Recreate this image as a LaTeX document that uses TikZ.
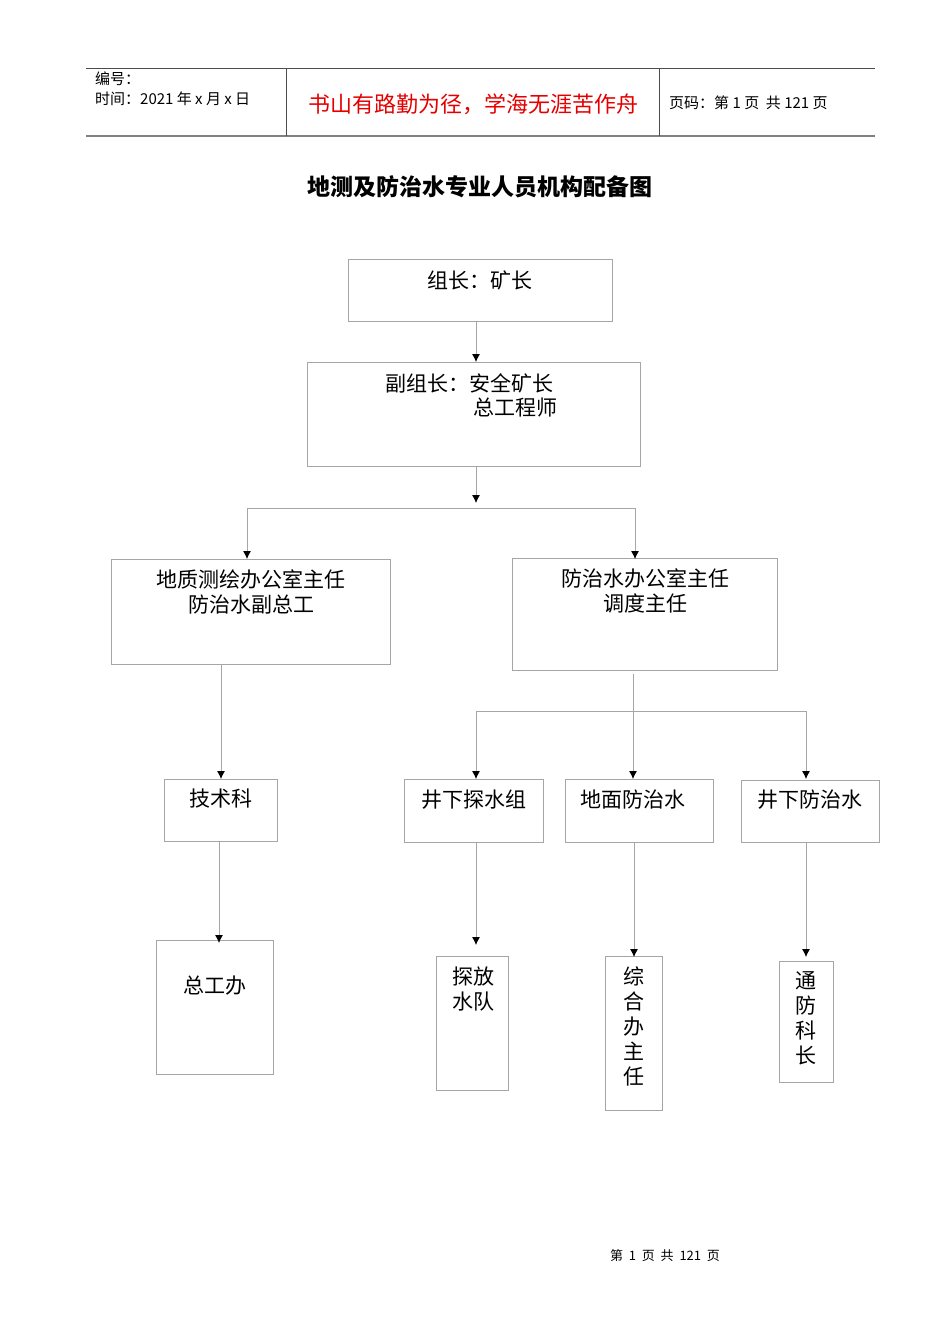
\documentclass[tikz,border=0pt]{standalone}
\usepackage{fontspec}
\setmainfont{Noto Sans CJK SC}
\usetikzlibrary{arrows.meta}
\begin{document}
\begin{tikzpicture}[x=1pt,y=-1pt,
  box/.style={draw=black!35,line width=0.8pt},
  ln/.style={draw=black!35,line width=0.8pt},
  arr/.style={ln,-{Latex[length=8,width=8,black]}},
  txt/.style={font=\fontsize{21}{25}\selectfont,inner sep=0pt,align=center}]
\useasboundingbox (0,0) rectangle (950,1344);
% header
\draw[line width=0.8pt,black!70] (86,68) -- (875,68);
\draw[line width=1.5pt,black!50] (86,136) -- (875,136);
\draw[line width=0.8pt,black!70] (286,68) -- (286,136) (659,68) -- (659,136);
\node[anchor=west,inner sep=0pt,font=\fontsize{15}{16}\selectfont] (h1) at (95,79) {编号：};
\node[anchor=west,inner sep=0pt,font=\fontsize{15}{16}\selectfont] (h2) at (95,99) {时间：2021 年 x 月 x 日};
\node[inner sep=0pt,text=red!90!black,font=\fontsize{22}{24}\selectfont] (h3) at (473,104) {书山有路勤为径，学海无涯苦作舟};
\node[anchor=west,inner sep=0pt,font=\fontsize{15}{16}\selectfont] (h4) at (669,103) {页码：第 1 页\ \ 共 121 页};
\node[inner sep=0pt,font=\fontsize{23}{24}\selectfont\bfseries] (title) at (480,187) {地测及防治水专业人员机构配备图};
% boxes
\draw[box] (348,259) rectangle (612,321);
\node[txt] (A) at (480,280) {组长：矿长};
\draw[box] (307,362) rectangle (640,466);
\node[txt,anchor=west] (B1) at (385,383) {副组长：安全矿长};
\node[txt,anchor=west] (B2) at (473,408) {总工程师};
\draw[box] (111,559) rectangle (390,664);
\node[txt] (C) at (251,592) {地质测绘办公室主任\\防治水副总工};
\draw[box] (512,558) rectangle (777,670);
\node[txt] (D) at (645,591) {防治水办公室主任\\调度主任};
\draw[box] (164,779) rectangle (277,841);
\node[txt] (E) at (221,799) {技术科};
\draw[box] (404,779) rectangle (543,842);
\node[txt] (F) at (474,800) {井下探水组};
\draw[box] (565,779) rectangle (713,842);
\node[txt] (G) at (633,800) {地面防治水};
\draw[box] (741,780) rectangle (879,842);
\node[txt] (H) at (810,800) {井下防治水};
\draw[box] (156,940) rectangle (273,1074);
\node[txt] (I) at (215,986) {总工办};
\draw[box] (436,956) rectangle (508,1090);
\node[txt] (J) at (473,989) {探放\\水队};
\draw[box] (605,956) rectangle (662,1110);
\node[txt] (K) at (634,1026) {综\\合\\办\\主\\任};
\draw[box] (779,961) rectangle (833,1082);
\node[txt] (L) at (806,1018) {通\\防\\科\\长};
% connectors
\coordinate (a1) at (476,321); \coordinate (a2) at (476,362);
\draw[arr] (a1) -- (a2);
\coordinate (b1) at (476,466); \coordinate (b2) at (476,503);
\draw[arr] (b1) -- (b2);
\coordinate (jl) at (247,508); \coordinate (jr) at (635,508);
\draw[ln] (jl) -- (jr);
\draw[arr] (jl) -- (247,559);
\draw[arr] (jr) -- (635,559);
\draw[arr] (221,664) -- (221,779);
\coordinate (d1) at (633,674); \coordinate (d2) at (633,711);
\draw[ln] (d1) -- (d2);
\draw[ln] (476,711) -- (806,711);
\draw[arr] (476,711) -- (476,779);
\draw[arr] (d2) -- (633,779);
\draw[arr] (806,711) -- (806,779);
\draw[arr] (219,841) -- (219,943);
\draw[arr] (476,842) -- (476,945);
\draw[arr] (634,842) -- (634,957);
\draw[arr] (806,842) -- (806,957);
\node[inner sep=0pt,font=\fontsize{13}{14}\selectfont] (foot) at (665,1256) {第\ \ 1\ \ 页\ \ 共\ \ 121\ \ 页};
\end{tikzpicture}
\end{document}
